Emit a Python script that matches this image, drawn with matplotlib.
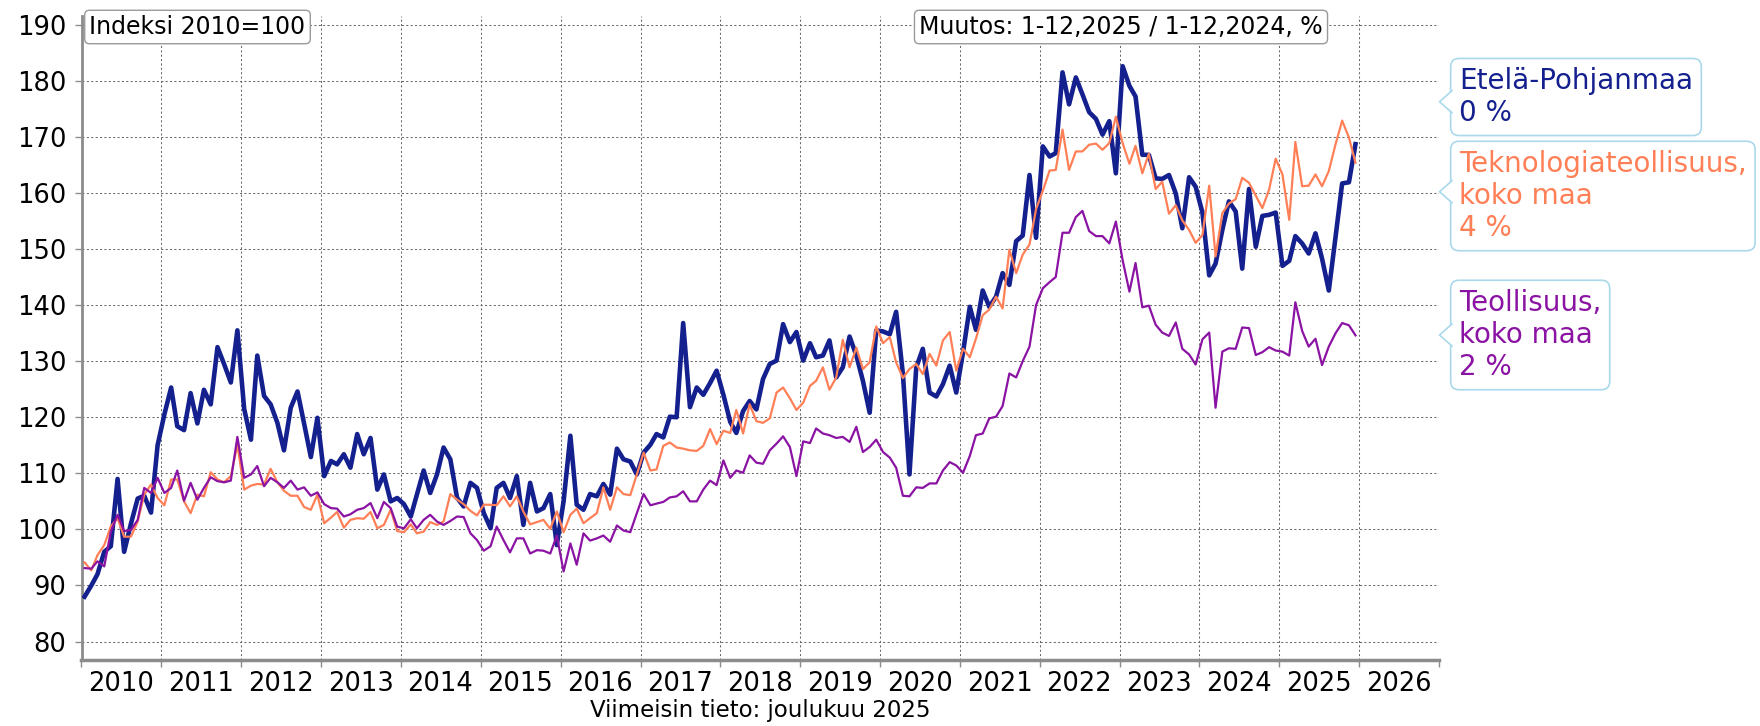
import matplotlib
matplotlib.use("Agg")
import matplotlib.pyplot as plt
import matplotlib.dates as mdates
from matplotlib.patches import Polygon
from matplotlib.lines import Line2D
import numpy as np
import pandas as pd

# monthly index 2010=100, Jan 2010 .. Dec 2025 (plotted mid-month)
months = pd.date_range("2010-01-01", "2025-12-01", freq="MS") + pd.Timedelta(days=14)

etela_pohjanmaa = [
    88.0, 90.0, 92.0, 96.0, 97.0, 109.0, 96.0, 101.0, 105.5, 106.0, 103.0, 115.0,
    120.5, 125.3, 118.4, 117.7, 124.3, 118.9, 124.9, 122.3, 132.5, 129.5, 126.2, 135.5,
    121.5, 116.0, 131.0, 123.8, 122.3, 119.0, 114.1, 121.7, 124.6, 118.9, 112.9, 119.9,
    109.5, 112.2, 111.6, 113.4, 111.0, 117.0, 113.4, 116.3, 107.1, 109.8, 105.0, 105.6,
    104.5, 102.3, 106.2, 110.5, 106.5, 109.8, 114.6, 112.5, 105.6, 104.1, 108.3, 107.4,
    102.9, 100.2, 107.4, 108.3, 105.6, 109.5, 100.8, 108.3, 103.2, 103.8, 106.3, 97.2,
    105.0, 116.7, 104.4, 103.5, 106.3, 105.9, 108.1, 106.2, 114.4, 112.5, 112.1, 109.8,
    113.7, 115.1, 117.0, 116.4, 120.1, 120.0, 136.8, 121.8, 125.3, 124.0, 126.1, 128.3,
    124.0, 119.2, 117.2, 121.1, 122.9, 121.4, 126.8, 129.5, 130.1, 136.6, 133.4, 135.2,
    130.1, 133.2, 130.7, 131.0, 133.7, 127.1, 128.9, 134.4, 131.0, 126.5, 120.8, 135.5,
    135.3, 134.8, 138.8, 127.7, 109.8, 128.9, 132.2, 124.4, 123.7, 125.9, 129.2, 124.4,
    131.6, 139.7, 135.6, 142.6, 139.7, 141.5, 145.7, 143.6, 151.4, 152.4, 163.2, 152.0,
    168.3, 166.5, 167.1, 181.5, 175.8, 180.6, 177.6, 174.4, 173.2, 170.4, 172.8, 163.5,
    182.6, 179.1, 177.2, 166.8, 166.8, 162.6, 162.5, 163.2, 159.9, 153.7, 162.8, 161.1,
    156.5, 145.3, 147.4, 153.4, 158.5, 156.7, 146.5, 160.7, 150.4, 155.9, 156.1, 156.5,
    147.0, 147.9, 152.3, 151.0, 149.2, 152.8, 148.3, 142.6, 152.2, 161.7, 161.9, 168.7,
]

teknologiateollisuus = [
    94.1, 92.7, 95.4, 97.2, 100.5, 102.0, 98.7, 98.7, 101.4, 106.2, 108.0, 105.6,
    104.3, 108.9, 108.9, 105.0, 102.9, 106.2, 105.9, 110.2, 108.9, 108.4, 109.5, 115.1,
    107.1, 107.8, 108.1, 108.0, 110.8, 108.4, 106.9, 106.0, 106.0, 104.0, 103.5, 106.2,
    101.1, 102.1, 103.1, 100.3, 101.7, 102.0, 101.9, 103.1, 100.2, 100.8, 103.5, 99.7,
    99.5, 100.9, 99.3, 99.6, 101.3, 100.8, 101.4, 106.3, 105.3, 104.5, 103.3, 102.5,
    104.4, 104.4, 104.3, 105.9, 104.1, 105.9, 103.2, 100.9, 101.3, 101.7, 100.1, 103.2,
    99.5, 102.6, 103.7, 101.1, 102.0, 102.9, 107.5, 103.5, 107.5, 106.3, 106.1, 109.8,
    113.7, 110.5, 110.7, 114.9, 115.5, 114.6, 114.4, 114.1, 114.0, 114.9, 117.9, 115.2,
    117.6, 117.2, 121.3, 117.1, 122.3, 119.3, 119.0, 119.8, 124.4, 125.3, 123.4, 121.3,
    122.6, 125.6, 126.5, 128.9, 124.9, 127.1, 133.8, 128.9, 132.4, 128.6, 129.8, 136.2,
    133.2, 134.3, 129.8, 127.0, 128.6, 129.5, 127.7, 131.3, 129.2, 133.7, 135.2, 128.3,
    132.2, 130.7, 134.0, 138.2, 139.2, 141.5, 139.4, 149.9, 145.7, 149.0, 150.8, 157.1,
    160.4, 164.0, 164.1, 171.3, 164.1, 167.4, 167.4, 168.6, 168.8, 167.7, 168.9, 173.6,
    168.9, 165.2, 168.4, 163.5, 167.0, 160.7, 162.0, 156.3, 157.8, 155.1, 153.4, 151.1,
    152.5, 161.3, 148.7, 156.4, 158.1, 158.9, 162.7, 161.8, 159.5, 157.3, 160.6, 166.1,
    163.3, 155.2, 169.1, 161.2, 161.3, 163.3, 161.2, 163.9, 168.7, 172.9, 169.9, 165.4,
]

teollisuus = [
    93.1, 93.0, 94.3, 93.4, 99.6, 102.6, 99.7, 99.9, 101.7, 107.4, 106.5, 109.2,
    106.5, 107.4, 110.5, 105.1, 108.3, 105.3, 107.4, 109.3, 108.6, 108.4, 108.7, 116.5,
    109.2, 109.8, 111.3, 107.7, 109.2, 108.4, 107.4, 108.7, 107.1, 107.5, 106.0, 106.6,
    104.5, 103.8, 103.7, 102.3, 102.7, 103.5, 103.8, 104.7, 102.0, 104.9, 103.8, 100.5,
    100.2, 101.8, 100.2, 101.7, 102.6, 101.4, 100.8, 101.5, 102.3, 102.2, 99.3, 98.1,
    96.2, 97.0, 100.5, 98.1, 95.9, 98.4, 98.4, 95.7, 96.3, 96.2, 95.7, 98.9,
    92.5, 97.5, 93.7, 99.3, 98.0, 98.4, 98.9, 97.8, 100.7, 99.8, 99.5, 102.9,
    106.3, 104.3, 104.6, 104.9, 105.7, 105.9, 106.8, 105.0, 105.0, 107.1, 108.7, 107.9,
    112.3, 109.2, 110.5, 110.1, 113.2, 111.9, 111.7, 114.1, 115.3, 116.6, 114.7, 109.5,
    115.7, 115.4, 118.0, 117.1, 116.8, 116.3, 116.5, 115.6, 118.3, 113.8, 114.7, 116.0,
    113.8, 112.8, 111.0, 106.0, 105.9, 107.5, 107.4, 108.2, 108.2, 110.5, 112.0, 111.4,
    110.1, 113.1, 116.8, 117.1, 119.8, 120.1, 122.0, 127.8, 127.1, 130.0, 132.6, 140.0,
    143.0, 144.1, 145.0, 152.9, 152.9, 155.7, 156.8, 153.2, 152.3, 152.3, 151.0, 154.9,
    148.0, 142.4, 147.5, 139.6, 139.9, 136.5, 135.1, 134.5, 136.9, 132.2, 131.2, 129.4,
    133.9, 135.1, 121.7, 131.7, 132.3, 132.2, 136.0, 135.9, 131.1, 131.6, 132.5, 131.9,
    131.7, 131.0, 140.5, 135.4, 132.6, 134.0, 129.3, 132.6, 135.0, 136.8, 136.4, 134.6,
]

labels = ["Etelä-Pohjanmaa", "Teknologiateollisuus,\nkoko maa", "Teollisuus,\nkoko maa"]
changes = ["0 %", "4 %", "2 %"]

BLUE = "#15208f"
ORANGE = "#ff7f57"
PURPLE = "#8b13a3"
GRID = "#6a6a6a"
AXIS = "#8c8c8c"

plt.rcParams["font.family"] = ["DejaVu Sans"]

W, H = 1760, 726
fig = plt.figure(figsize=(W / 100, H / 100), dpi=100)
ax = fig.add_axes([81.5 / W, 1 - 659.5 / H, (1439 - 81.5) / W, (659.5 - 16.3) / H])

ax.plot(months, etela_pohjanmaa, color=BLUE, lw=3.3, zorder=3)
ax.plot(months, teknologiateollisuus, color=ORANGE, lw=1.6, zorder=4)
ax.plot(months, teollisuus, color=PURPLE, lw=1.6, zorder=4)

ax.set_xlim(pd.Timestamp("2010-01-01"), pd.Timestamp("2027-01-01"))
ax.set_ylim(76.8, 191.5)
ax.set_yticks(np.arange(80, 191, 10))

ax.xaxis.set_major_locator(mdates.YearLocator())
ax.xaxis.set_major_formatter(plt.NullFormatter())
ax.xaxis.set_minor_locator(mdates.MonthLocator(bymonth=7))
ax.xaxis.set_minor_formatter(mdates.DateFormatter("%Y"))

ax.tick_params(axis="x", which="major", length=5, color=AXIS, width=1)
ax.tick_params(axis="x", which="minor", length=0, labelsize=18.5, pad=8)
ax.tick_params(axis="y", length=5, color=AXIS, width=1, labelsize=18.5, pad=6)

ax.grid(True, which="major", color=GRID, lw=0.75, ls=(0, (2, 2.2)))
for side in ("top", "right"):
    ax.spines[side].set_visible(False)
ax.spines["left"].set_color(AXIS)
ax.spines["left"].set_linewidth(2)
ax.spines["bottom"].set_color(AXIS)
ax.spines["bottom"].set_linewidth(2.5)


def fx(px):
    return px / W


def fy(py):
    return 1 - py / H


# boxes at the top
top_box = dict(boxstyle="round,pad=0.2", fc="white", ec="#9a9a9a", lw=1)
fig.text(fx(197.5), fy(27), "Indeksi 2010=100", ha="center", va="center",
         fontsize=17, bbox=top_box, zorder=10)
fig.text(fx(1121), fy(27), "Muutos: 1-12,2025 / 1-12,2024, %", ha="center", va="center",
         fontsize=17, bbox=top_box, zorder=10)

fig.text(fx(760), fy(711), "Viimeisin tieto: joulukuu 2025", ha="center", va="center",
         fontsize=16.5)

# series labels on the right with a small pointer
label_colors = [BLUE, ORANGE, PURPLE]
box_centers = [97, 196, 335]
pointer_y = [101.7, 191.7, 335]
EDGE = "#a9d9ea"
for name, chg, col, cy, py in zip(labels, changes, label_colors, box_centers, pointer_y):
    fig.text(fx(1459), fy(cy), name + "\n" + chg, ha="left", va="center",
             fontsize=20, color=col, linespacing=1.2, zorder=10,
             bbox=dict(boxstyle="round,pad=0.3", fc="white", ec=EDGE, lw=1.2))
    tri = Polygon([(fx(1453), fy(py - 11)), (fx(1439.5), fy(py)), (fx(1453), fy(py + 11))],
                  closed=True, fc="white", ec="none", transform=fig.transFigure, zorder=11)
    fig.patches.append(tri)
    fig.lines.append(Line2D([fx(1452), fx(1439.5), fx(1452)],
                            [fy(py - 11), fy(py), fy(py + 11)],
                            color=EDGE, lw=1.2, transform=fig.transFigure, zorder=12))

fig.savefig("out.png", dpi=100)
